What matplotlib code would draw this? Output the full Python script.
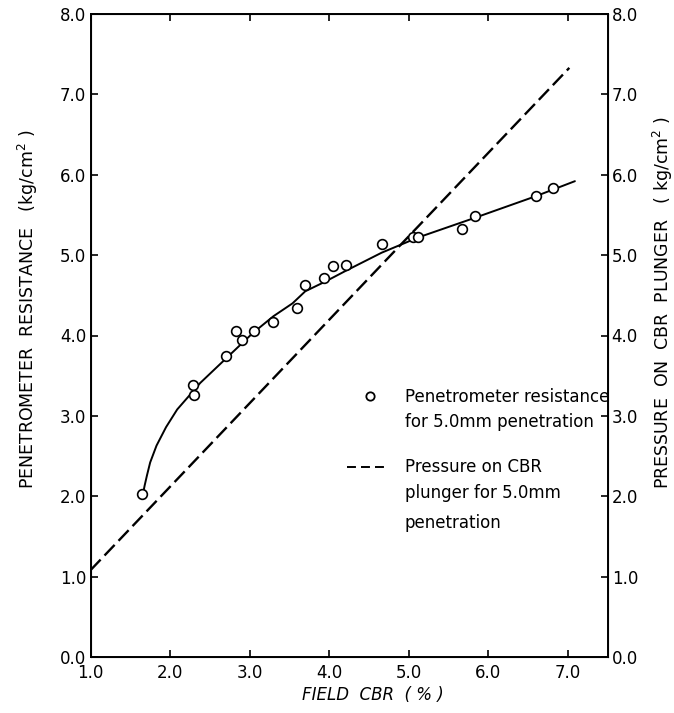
import matplotlib
matplotlib.use("Agg")
import matplotlib.pyplot as plt

# ---- data ----
field_cbr = [1.65, 2.29, 2.30, 2.70, 2.83, 2.91, 3.05, 3.30, 3.60, 3.70,
             3.94, 4.05, 4.21, 4.66, 5.05, 5.12, 5.67, 5.84, 6.60, 6.82]
pen_resistance = [2.03, 3.38, 3.26, 3.75, 4.05, 3.95, 4.06, 4.17, 4.34, 4.63,
                  4.71, 4.86, 4.88, 5.14, 5.22, 5.23, 5.33, 5.49, 5.74, 5.84]

# hand-drawn fitted curve through the penetrometer points
curve_x = [1.66, 1.68, 1.71, 1.75, 1.83, 1.95, 2.09, 2.24, 2.38, 2.71, 3.04,
           3.30, 3.54, 3.70, 3.95, 4.20, 4.66, 5.12, 5.82, 6.59, 7.09]
curve_y = [2.03, 2.13, 2.26, 2.42, 2.63, 2.86, 3.08, 3.25, 3.41, 3.72, 4.03,
           4.24, 4.40, 4.55, 4.67, 4.80, 5.03, 5.22, 5.46, 5.73, 5.92]

# CBR plunger pressure line (straight line, end points)
cbr_x = [1.00, 7.02]
cbr_y = [1.08, 7.33]

x_ticks = [1, 2, 3, 4, 5, 6, 7]
x_ticklabels = ["1.0", "2.0", "3.0", "4.0", "5.0", "6.0", "7.0"]
y_ticks = [0, 1, 2, 3, 4, 5, 6, 7, 8]
y_ticklabels = ["0.0", "1.0", "2.0", "3.0", "4.0", "5.0", "6.0", "7.0", "8.0"]

plt.rcParams["font.family"] = ["DejaVu Sans"]

fig = plt.figure(figsize=(6.74, 7.13), dpi=100)
ax = fig.add_axes([90.5 / 674, 1 - 657 / 713, 517 / 674, 643 / 713])

ax.plot(curve_x, curve_y, color="black", lw=1.4, solid_capstyle="round",
        solid_joinstyle="round", zorder=3)
ax.plot(field_cbr, pen_resistance, linestyle="none", marker="o", ms=7,
        mfc="white", mec="black", mew=1.2, zorder=4)
ln, = ax.plot(cbr_x, cbr_y, color="black", lw=1.7, zorder=2)
ln.set_dashes((6.2, 2.4))

ax.set_xlim(1.0, 7.5)
ax.set_ylim(0, 8)
ax.set_xticks(x_ticks)
ax.set_xticklabels(x_ticklabels)
ax.set_yticks(y_ticks)
ax.set_yticklabels(y_ticklabels)
ax.tick_params(axis="both", direction="in", length=5, width=1.2,
               labelsize=12, pad=3, top=True, right=False)
ax.tick_params(axis="x", pad=5)
for s in ax.spines.values():
    s.set_linewidth(1.4)

ax2 = ax.twinx()
ax2.set_ylim(0, 8)
ax2.set_yticks(y_ticks)
ax2.set_yticklabels(y_ticklabels)
ax2.tick_params(axis="y", direction="in", length=5, width=1.2, labelsize=12, pad=3)

ax.set_ylabel(r"PENETROMETER  RESISTANCE   (kg/cm$^2$ )", fontsize=12.5)
ax.yaxis.set_label_coords(-0.098, 0.54)
ax2.set_ylabel(r"PRESSURE  ON  CBR  PLUNGER   ( kg/cm$^2$ )", fontsize=12.5,
               rotation=90)
ax2.yaxis.set_label_coords(1.084, 0.551)
ax.set_xlabel("FIELD  CBR  ( % )", fontsize=12, style="italic")
ax.xaxis.set_label_coords(0.546, -0.045)

# legend, drawn as in the original figure
ax.plot([0.541], [0.406], transform=ax.transAxes, marker="o", ms=6,
        mfc="white", mec="black", mew=1.3, clip_on=False)
lg, = ax.plot([0.496, 0.570], [0.295, 0.295], transform=ax.transAxes,
              color="black", lw=1.4, clip_on=False)
lg.set_dashes((4.6, 2.6))
tkw = dict(transform=ax.transAxes, fontsize=12, va="center", ha="left")
ax.text(0.608, 0.404, "Penetrometer resistance", **tkw)
ax.text(0.608, 0.365, "for 5.0mm penetration", **tkw)
ax.text(0.608, 0.295, "Pressure on CBR", **tkw)
ax.text(0.608, 0.255, "plunger for 5.0mm", **tkw)
ax.text(0.608, 0.208, "penetration", **tkw)

fig.savefig("out.png", dpi=100)
